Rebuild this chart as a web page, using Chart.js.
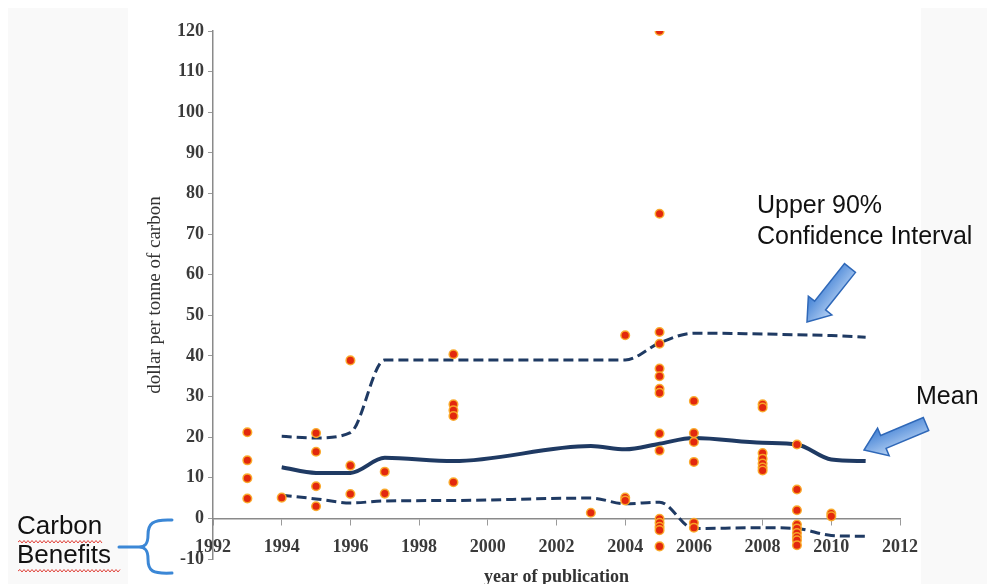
<!DOCTYPE html>
<html>
<head>
<meta charset="utf-8">
<script src="https://cdn.jsdelivr.net/npm/chart.js@4/dist/chart.umd.min.js"></script>
<style>
  html, body { margin: 0; padding: 0; background: #fff; overflow: hidden; }
  #wrap { width: 987px; height: 584px; position: relative; }
</style>
</head>
<body>
<div id="wrap"><canvas id="costChart"></canvas></div>
<script>
// ----- data -----
const studyYear = [
  1993, 1993, 1993, 1993,
  1994,
  1995, 1995, 1995, 1995,
  1996, 1996, 1996,
  1997, 1997,
  1999, 1999, 1999, 1999, 1999,
  2003,
  2004, 2004, 2004,
  2005, 2005, 2005, 2005, 2005, 2005, 2005, 2005, 2005, 2005, 2005, 2005, 2005, 2005, 2005,
  2006, 2006, 2006, 2006, 2006, 2006,
  2008, 2008, 2008, 2008, 2008, 2008, 2008,
  2009, 2009, 2009, 2009, 2009, 2009, 2009, 2009, 2009,
  2010, 2010
];
const studyCost = [
  21.2, 14.3, 9.9, 4.9,
  5.1,
  21.0, 16.4, 7.9, 3.0,
  38.9, 13.0, 6.0,
  11.5, 6.1,
  40.4, 28.1, 26.6, 25.2, 8.9,
  1.4,
  45.1, 5.1, 4.4,
  120, 75, 45.9, 43.0, 36.9, 35.0, 31.9, 30.9, 20.9, 16.7, -0.1, -1.1, -2.1, -2.9, -6.9,
  28.9, 21.0, 18.8, 13.9, -1.1, -2.3,
  28.1, 27.3, 16.1, 14.7, 13.5, 12.5, 11.8,
  18.2, 7.1, 2.0, -1.5, -2.5, -3.6, -4.6, -5.4, -6.6,
  1.2, 0.5
];

const lineYears = [1994, 1995, 1996, 1997, 1999, 2003, 2004, 2005, 2006, 2008, 2009, 2010, 2011];
const meanCost  = [12.6, 11.2, 11.2, 14.9, 14.1, 17.8, 17.0, 18.4, 19.8, 18.6, 18.2, 14.5, 14.1];
const upperCost = [20.2, 19.8, 21.1, 39.0, 39.0, 39.0, 39.0, 43.2, 45.6, 45.4, 45.2, 45.0, 44.6];
const lowerCost = [5.7, 4.8, 3.8, 4.3, 4.4, 5.0, 3.6, 4.0, -2.5, -2.3, -2.5, -4.2, -4.4];

const xTicks = [1992, 1994, 1996, 1998, 2000, 2002, 2004, 2006, 2008, 2010, 2012];
const yTicks = [-10, 0, 10, 20, 30, 40, 50, 60, 70, 80, 90, 100, 110, 120];

const toPoints = (xs, ys) => xs.map((x, i) => ({ x: x, y: ys[i] }));

const NAVY = "#1f3a63";
const SERIF = "'Liberation Serif', 'DejaVu Serif', serif";
const SANS = "'Liberation Sans', Arial, sans-serif";

// ----- drawing helpers for the slide annotations -----
function blockArrow(ctx, tx, ty, hx, hy, shaft, head, headLen) {
  const ang = Math.atan2(hy - ty, hx - tx);
  const len = Math.hypot(hx - tx, hy - ty);
  ctx.save();
  ctx.translate(tx, ty);
  ctx.rotate(ang);
  ctx.beginPath();
  ctx.moveTo(0, -shaft / 2);
  ctx.lineTo(len - headLen, -shaft / 2);
  ctx.lineTo(len - headLen, -head / 2);
  ctx.lineTo(len, 0);
  ctx.lineTo(len - headLen, head / 2);
  ctx.lineTo(len - headLen, shaft / 2);
  ctx.lineTo(0, shaft / 2);
  ctx.closePath();
  const g = ctx.createLinearGradient(0, -head / 2, 0, head / 2);
  g.addColorStop(0, "#b7d2f4");
  g.addColorStop(1, "#3f7fd4");
  ctx.fillStyle = g;
  ctx.fill();
  ctx.strokeStyle = "#2f68b8";
  ctx.lineWidth = 1.5;
  ctx.stroke();
  ctx.restore();
}

function wavyLine(ctx, x1, x2, y) {
  ctx.save();
  ctx.strokeStyle = "#e0443c";
  ctx.lineWidth = 1;
  ctx.beginPath();
  let up = true;
  ctx.moveTo(x1, y);
  for (let x = x1 + 2; x <= x2; x += 2) {
    ctx.lineTo(x, up ? y - 1.5 : y + 1);
    up = !up;
  }
  ctx.stroke();
  ctx.restore();
}

const slideNotes = {
  id: "slideNotes",
  beforeDraw(chart) {
    const { ctx } = chart;
    ctx.save();
    ctx.fillStyle = "#f9f9f9";
    ctx.fillRect(8, 8, 120, 576);
    ctx.fillRect(921, 8, 66, 576);
    ctx.restore();
  },
  afterDraw(chart) {
    const { ctx } = chart;
    ctx.save();
    ctx.fillStyle = "#111";
    ctx.font = "25px " + SANS;
    ctx.textAlign = "left";
    ctx.textBaseline = "middle";
    ctx.fillText("Upper 90%", 757, 206);
    ctx.fillText("Confidence Interval", 757, 237);
    ctx.fillText("Mean", 916, 397);
    ctx.font = "26px " + SANS;
    ctx.fillText("Carbon", 17, 527);
    ctx.fillText("Benefits", 17, 556);
    ctx.restore();

    wavyLine(ctx, 18, 102, 542);
    wavyLine(ctx, 18, 120, 571);

    blockArrow(ctx, 850, 268, 807, 322, 14, 30, 21);
    blockArrow(ctx, 926, 424, 864, 450, 14, 30, 21);

    // curly brace for the negative region
    ctx.save();
    ctx.strokeStyle = "#3b87d6";
    ctx.lineWidth = 3;
    ctx.lineCap = "round";
    ctx.beginPath();
    ctx.moveTo(172, 520);
    ctx.bezierCurveTo(152, 519, 148, 524, 148, 535);
    ctx.bezierCurveTo(148, 544, 145, 547, 139, 547);
    ctx.bezierCurveTo(145, 547, 148, 550, 148, 559);
    ctx.bezierCurveTo(148, 571, 152, 574, 172, 573);
    ctx.moveTo(119, 547);
    ctx.lineTo(139, 547);
    ctx.stroke();
    ctx.restore();
  }
};

// ----- chart -----
new Chart(document.getElementById("costChart").getContext("2d"), {
  type: "scatter",
  data: {
    datasets: [
      {
        label: "studies",
        data: toPoints(studyYear, studyCost),
        backgroundColor: "#e2280e",
        borderColor: "rgba(250,170,40,0.95)",
        borderWidth: 1.5,
        pointRadius: 4.3,
        order: 0
      },
      {
        label: "Mean",
        type: "line",
        data: toPoints(lineYears, meanCost),
        borderColor: NAVY,
        borderWidth: 4,
        pointRadius: 0,
        cubicInterpolationMode: "monotone",
        fill: false,
        order: 1
      },
      {
        label: "Upper 90%",
        type: "line",
        data: toPoints(lineYears, upperCost),
        borderColor: NAVY,
        borderWidth: 3,
        borderDash: [10, 5],
        pointRadius: 0,
        cubicInterpolationMode: "monotone",
        fill: false,
        order: 2
      },
      {
        label: "Lower 90%",
        type: "line",
        data: toPoints(lineYears, lowerCost),
        borderColor: NAVY,
        borderWidth: 3,
        borderDash: [10, 5],
        pointRadius: 0,
        cubicInterpolationMode: "monotone",
        fill: false,
        order: 3
      }
    ]
  },
  options: {
    responsive: true,
    maintainAspectRatio: false,
    animation: false,
    layout: { padding: { top: 31, right: 87, bottom: 25, left: 0 } },
    plugins: {
      legend: { display: false },
      tooltip: { enabled: false }
    },
    scales: {
      x: {
        type: "linear",
        position: { y: 0 },
        min: 1992,
        max: 2012,
        afterBuildTicks: (scale) => { scale.ticks = xTicks.map(v => ({ value: v })); },
        afterFit: (scale) => { scale.height = 25; },
        grid: { drawOnChartArea: false, drawTicks: true, tickLength: 6, color: "#9a9a9a" },
        border: { display: true, color: "#8a8a8a", width: 1.5 },
        ticks: {
          padding: 12,
          color: "#3a3a3a",
          font: { family: SERIF, size: 18, weight: "bold" },
          callback: (v) => String(v)
        },
        title: {
          display: true,
          text: "year of publication",
          color: "#333",
          font: { family: SERIF, size: 18, weight: "bold" },
          padding: { top: 0, bottom: -45 }
        }
      },
      y: {
        min: -10,
        max: 120,
        afterBuildTicks: (scale) => { scale.ticks = yTicks.map(v => ({ value: v })); },
        afterFit: (scale) => { scale.width = 213; },
        grid: { drawOnChartArea: false, drawTicks: true, tickLength: 5, color: "#9a9a9a" },
        border: { display: true, color: "#8a8a8a", width: 1.5 },
        ticks: {
          padding: 4,
          color: "#3a3a3a",
          font: { family: SERIF, size: 18, weight: "bold" },
          callback: (v) => String(v)
        },
        title: {
          display: true,
          text: "dollar per tonne of carbon",
          color: "#333",
          font: { family: SERIF, size: 19 },
          padding: { top: 144, bottom: 0 }
        }
      }
    }
  },
  plugins: [slideNotes]
});
</script>
</body>
</html>
